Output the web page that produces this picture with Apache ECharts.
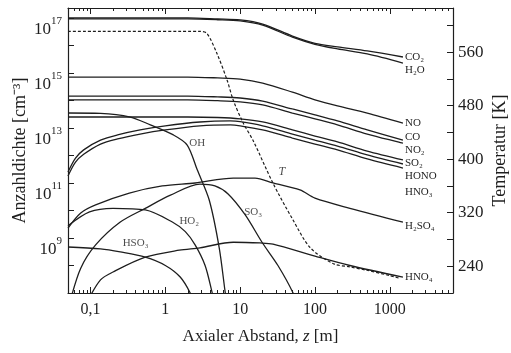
<!DOCTYPE html>
<html>
<head>
<meta charset="utf-8">
<script src="https://cdn.jsdelivr.net/npm/echarts@6/dist/echarts.min.js"></script>
<style>html,body{margin:0;background:#fff}#chart{width:511px;height:353px}</style>
</head>
<body>
<div id="chart"></div>
<script>
// Axialer Abstand z [m], Anzahldichte [cm^-3]
var co2  = [[0.05,1e17],[2,1e17],[5,9.2e16],[10,8.5e16],[20,6e16],[50,2.2e16],[100,1.2e16],[200,8.9e15],[500,6.3e15],[1500,3.8e15]];
var h2o  = [[0.05,9.2e16],[2,9.2e16],[5,8.6e16],[10,7.8e16],[20,5.5e16],[50,2e16],[100,1.1e16],[200,7.5e15],[500,4.9e15],[1500,2.3e15]];
var no   = [[0.05,7.1e14],[2,7.1e14],[5,6.6e14],[10,6e14],[20,4.3e14],[50,2e14],[100,1.05e14],[200,6.3e13],[500,3.5e13],[1500,1.5e13]];
var co   = [[0.05,1.45e14],[2,1.45e14],[5,1.35e14],[10,1.23e14],[20,9.5e13],[50,4.9e13],[100,3e13],[200,1.8e13],[500,8.5e12],[1500,3.6e12]];
var no2  = [[0.05,1.05e14],[2,1.05e14],[5,9.8e13],[10,8.9e13],[20,6.9e13],[50,3.5e13],[100,2.15e13],[200,1.3e13],[500,6e12],[1500,2.8e12]];
var so2  = [[0.05,2.5e13],[2,2.5e13],[5,2.4e13],[10,2.15e13],[20,1.65e13],[50,8.5e12],[100,5.1e12],[200,3.1e12],[500,1.45e12],[1500,6.9e11]];
var hono = [[0.05,2.5e11],[0.063,8e11],[0.081,1.6e12],[0.136,3.6e12],[0.23,5.6e12],[0.46,8.5e12],[1,1.2e13],[2.9,1.65e13],[7.4,1.8e13],[10,1.7e13],[20,1.2e13],[50,6e12],[100,3.6e12],[200,2.2e12],[500,1.05e12],[1500,4.9e11]];
var hno3 = [[0.05,1.8e11],[0.063,5.7e11],[0.081,1.1e12],[0.136,2.6e12],[0.23,4e12],[0.46,6e12],[1,8.5e12],[2.9,1.2e13],[7.4,1.3e13],[10,1.2e13],[20,8.5e12],[50,4.3e12],[100,2.6e12],[200,1.6e12],[500,7.5e11],[1500,3.5e11]];
var oh   = [[0.05,3.5e13],[0.136,3.4e13],[0.34,2.5e13],[0.63,1.3e13],[1.28,5.6e12],[1.96,2.4e12],[2.67,3e11],[3.86,2.4e10],[5.25,4.4e8],[6.3,1.1e7],[6.6,5e6]];
var h2so4= [[0.05,2.3e9],[0.074,8.1e9],[0.117,1.6e10],[0.33,4.3e10],[0.91,7.8e10],[2.5,1e11],[8.1,1.5e11],[15.8,1.5e11],[27.5,1e11],[63,5.6e10],[100,2.8e10],[293,1.2e10],[1500,3.8e9]];
var ho2  = [[0.05,2.8e9],[0.097,8.9e9],[0.2,1.2e10],[0.54,1.05e10],[1.24,3.8e9],[1.85,1.7e9],[2.5,5.6e8],[3.4,1e8],[4.2,1.1e7],[4.5,5e6]];
var so3  = [[0.054,5.6e6],[0.074,8e7],[0.117,5.6e8],[0.25,3.8e9],[0.54,1.2e10],[1.17,3.6e10],[2.9,9.1e10],[4.6,7.8e10],[6.9,4e10],[11.7,6.9e9],[19.6,7e8],[32,1e8],[51,1e7],[54,5e6]];
var hso3 = [[0.05,4.7e8],[0.136,4e8],[0.25,3.1e8],[0.54,2e8],[1,1e8],[1.58,3.8e7],[2.15,1e7],[2.3,5e6]];
var hno4 = [[0.091,5e6],[0.136,3e7],[0.2,5.8e7],[0.54,2e8],[1.54,3.6e8],[2.9,4.4e8],[8.1,7e8],[18.5,6.6e8],[27.5,6e8],[100,2.2e8],[293,1e8],[1500,3.8e7]];
// Temperatur T [K]
var temp = [[0.05,591],[2.9,591],[3.6,588],[4.9,558],[6.7,518],[8.1,488],[11,454],[14.9,428],[27.5,364],[51,309],[86,268],[174,244],[293,239],[493,234],[1000,226],[1350,222]];
// Beschriftungen im Diagramm: [z, n, text]
var curveLabels = [[2.67,2.8e12,'OH'],[2.09,4.2e9,'HO₂'],[14.9,8.9e9,'SO₃'],[0.4,6.6e8,'HSO₃'],[36,2.5e11,'T']];
var xTickLabels = {'-1':'0,1','0':'1','1':'10','2':'100','3':'1000'};
var yLabelExp = [9,11,13,15,17];
var tempLabels = [240,320,400,480,560];

var serif = 'Liberation Serif';
var ink = '#1e1e1e';
var xMin = 0.05, xMax = 7000;

// Nebenstriche bei 2..9 je Dekade
var minorTicks = [];
for (var k = -2; k <= 3; k++) {
    for (var m = 2; m <= 9; m++) {
        var v = m * Math.pow(10, k);
        if (v > xMin && v < xMax) minorTicks.push(Math.log10(v));
    }
}

var chart = echarts.init(document.getElementById('chart'));

function line(name, data, dy) {
    return {
        name: name, type: 'line', data: data, smooth: 0.3, symbol: 'none',
        xAxisIndex: 0, yAxisIndex: 0, clip: true,
        lineStyle: {color: ink, width: 1.3},
        endLabel: dy === null ? {show: false} : {
            show: true, formatter: name, distance: 2, offset: [0, dy],
            fontFamily: serif, fontSize: 11, color: ink
        }
    };
}

var minorAxis = function (pos) {
    return {
        type: 'value', position: pos, min: Math.log10(xMin), max: Math.log10(xMax),
        axisLine: {show: false, onZero: false}, splitLine: {show: false}, axisLabel: {show: false},
        axisTick: {show: true, inside: true, length: 3, customValues: minorTicks, lineStyle: {color: ink}}
    };
};

function expLabel(v) {
    var e = Math.round(Math.log10(v));
    if (Math.abs(Math.log10(v) - e) > 0.01) return '';
    return yLabelExp.indexOf(e) >= 0 ? '{b|10}{s|' + e + '}' : '';
}

option = {
    animation: false,
    grid: {left: 68, right: 58, top: 8, bottom: 60, containLabel: false, outerBoundsMode: 'none'},
    xAxis: [
        {
            type: 'log', logBase: 10, min: xMin, max: xMax, position: 'bottom',
            axisLine: {onZero: false, lineStyle: {color: ink, width: 1.2}},
            axisTick: {inside: true, length: 6, lineStyle: {color: ink}},
            splitLine: {show: false},
            axisLabel: {
                margin: 9, fontFamily: serif, fontSize: 16, color: ink,
                showMinLabel: false, showMaxLabel: false,
                formatter: function (v) {
                    var e = Math.round(Math.log10(v));
                    if (Math.abs(Math.log10(v) - e) > 0.01) return '';
                    return xTickLabels[e] || '';
                }
            },
            name: 'Axialer Abstand, {i|z} [m]', nameLocation: 'middle', nameGap: 35,
            nameTextStyle: {fontFamily: serif, fontSize: 17, color: ink,
                rich: {i: {fontFamily: serif, fontSize: 17, fontStyle: 'italic', color: ink}}}
        },
        {
            type: 'log', logBase: 10, min: xMin, max: xMax, position: 'top',
            axisLine: {onZero: false, lineStyle: {color: ink, width: 1.2}},
            axisTick: {inside: true, length: 6, lineStyle: {color: ink}},
            splitLine: {show: false}, axisLabel: {show: false}
        },
        minorAxis('bottom'),
        minorAxis('top')
    ],
    yAxis: [
        {
            type: 'log', logBase: 10, min: 1e7, max: 2.3e17, interval: 1, position: 'left',
            axisLine: {onZero: false, lineStyle: {color: ink, width: 1.2}},
            axisTick: {inside: true, length: 6, interval: 0, lineStyle: {color: ink}},
            splitLine: {show: false},
            axisLabel: {
                show: true, interval: 0, margin: 6, padding: [24, 0, 0, 0],
                formatter: expLabel,
                rich: {
                    b: {fontFamily: serif, fontSize: 17, lineHeight: 17, color: ink, verticalAlign: 'bottom'},
                    s: {fontFamily: serif, fontSize: 11, lineHeight: 11, color: ink, verticalAlign: 'bottom', padding: [0, 0, 12, 0]}
                }
            },
            name: 'Anzahldichte [cm⁻³]', nameLocation: 'middle', nameGap: 39, nameRotate: 90,
            nameMoveOverlap: false,
            nameTextStyle: {fontFamily: serif, fontSize: 18, color: ink}
        },
        {
            type: 'value', min: 200, max: 626, interval: 40, position: 'right',
            axisLine: {onZero: false, lineStyle: {color: ink, width: 1.2}},
            axisTick: {inside: true, length: 6, lineStyle: {color: ink}},
            splitLine: {show: false},
            axisLabel: {
                margin: 5, fontFamily: serif, fontSize: 17, color: ink,
                formatter: function (v) { return tempLabels.indexOf(v) >= 0 ? String(v) : ''; }
            },
            name: 'Temperatur [K]', nameLocation: 'middle', nameGap: 38, nameRotate: 90,
            nameMoveOverlap: false,
            nameTextStyle: {fontFamily: serif, fontSize: 18, color: ink}
        }
    ],
    series: [
        line('CO₂', co2, 0),
        line('H₂O', h2o, 7),
        line('NO', no, 0),
        line('CO', co, -3),
        line('NO₂', no2, 7),
        line('SO₂', so2, 3),
        line('HONO', hono, 12),
        line('HNO₃', hno3, 24),
        line('OH', oh, null),
        line('H₂SO₄', h2so4, 4),
        line('HO₂', ho2, null),
        line('SO₃', so3, null),
        line('HSO₃', hso3, null),
        line('HNO₄', hno4, 0),
        {
            name: 'T', type: 'line', data: temp, smooth: 0.3, symbol: 'none',
            xAxisIndex: 0, yAxisIndex: 1,
            lineStyle: {color: ink, width: 1.2, type: [3, 2]}
        },
        {
            type: 'scatter', data: curveLabels, symbolSize: 0, xAxisIndex: 0, yAxisIndex: 0,
            label: {
                show: true, position: 'inside', fontFamily: serif, fontSize: 11, color: ink,
                formatter: function (p) { return p.data[2] === 'T' ? '{i|T}' : p.data[2]; },
                rich: {i: {fontFamily: serif, fontSize: 12, fontStyle: 'italic', color: ink}}
            }
        }
    ]
};
chart.setOption(option);
</script>
</body>
</html>
